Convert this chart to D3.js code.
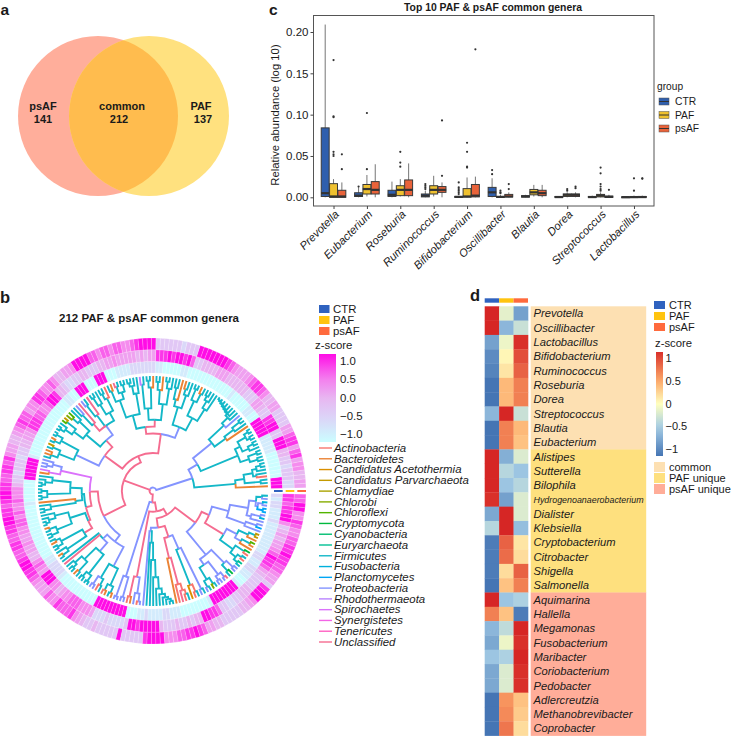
<!DOCTYPE html>
<html>
<head>
<meta charset="utf-8">
<script src="https://cdn.jsdelivr.net/npm/d3@7"></script>
<style>
  body { margin: 0; background: #fff; }
  svg { display: block; }
  text { font-family: "Liberation Sans", Arial, sans-serif; fill: #1a1a1a; }
</style>
</head>
<body>
<svg id="fig" width="733" height="738"></svg>
<script>
// Data
// -------------------------

var groups = ["CTR", "PAF", "psAF"];

// a: venn
var vennNames = ["psAF", "common", "PAF"];
var vennCounts = [141, 212, 137];

// b: phyla, codes are used in the tree string below
var phyla = ["Actinobacteria", "Bacteroidetes", "Candidatus Acetothermia", "Candidatus Parvarchaeota",
  "Chlamydiae", "Chlorobi", "Chloroflexi", "Cryptomycota", "Cyanobacteria", "Euryarchaeota", "Firmicutes",
  "Fusobacteria", "Planctomycetes", "Proteobacteria", "Rhodothermaeota", "Spirochaetes", "Synergistetes",
  "Tenericutes", "Unclassified"];
var phylaCodes = ["A", "B", "C", "D", "E", "G", "H", "I", "J", "K", "F", "L", "M", "P", "R", "S", "T", "N", "U"];
var zTicksB = [1, 0.5, 0, -0.5, -1];

// tree: letter = tip, (...)X70 = clade with branch colour X at radius 70 (tips are at 100)
var cladeS1 = "(B((FF)F94((AF)F91(F(FF)F96)F92)F88)F80)F72";
var cladeS2 = "(((FF)F95(FF)F96)F88((F(FF)F96)F91((FF)F96(FF)F97)F93)F85)F80";
var cladeS3 = "((B(F(FF)F96)F88)F78(P(F(F(F(F(F(F(FF)F98)F97)F96)F95)F94)F93)F91)F84)P66";
var cladeS4 = "(((F(F(FF)F95)F91)F84((FB)F94(FF)F96)F86)F72((F(FB)F93)F88(B(FF)F92)F82)F76)P60";
var cladeS5 = "(((F(FF)F96)F90(B(FF)F95)F88)F76((B(FF)F96)F90(FR)F93)F72)U62";
var cladeS5b = "((F(F(FF)F96)F93)F86(((FF)F96(FU)F96)F90(BF)F94)F84)F68";
var cladeS6a = "(((A(FF)F95)F90(F(FF)F96)F88)F78(U(FP)F94)F82(U(PF)F90)U78)P70";
var cladeS6b = "((F(HG)F94)F88((DH)F96(F(FF)F97)F93)F86)F76";
var cladeS6c = "(((FF)F97(BF)F96)F91((DF)F95(BBF)F94)F88)P74";
var cladeS7 = "((P(PP)P95)P90(SB)S92)S82";
var cladeS8a = "((F(F(FF)F97)F94)F88((FF)F97(FF)F97)F92)F72";
var cladeS8b = "(B(F(FF)F96)F90)F68";
var cladeS8c = "((F(F(FF)F97)F94)F88((BF)F96(FF)F96)F90)F76";
var cladeS8d = "(((FB)F95(FF)F96)F91(F(BF)F96)F90)U70";
var cladeS9 = "((FU)F60(((F(FF)F96)F92(BF)F95)F84((FF)F96(FF)F97)F91)P70)P60";
var cladeS9b = "(((PP)P96(AF)F94)F88((AB)F96(FB)F96)F90)P74";
var cladeB1 = "((PP)P97(PP)P96)P78";
var cladeB2 = "((AB)U94(P(AP)P97)P90)U76";
var cladeB3 = "(P(F(F(F(F(F(F(F(FF)F97)F95)F93)F90)F85)F75)F60)F45)P35";
var cladeB4 = "(B(A(U(AF)A94)A90)U84)U60";
var cladeB4b = "((C(AF)A95)F88(PF)P95)P55";
var cladeR1 = "(((PF)F96(GF)F96)F90((PP)P96(PU)P97)P92)P78";
var cladeR2 = "((FI)F95(PP)P96)P88";
var cladeR3 = "((((FK)F96(AF)F96)F92(AI)F95)F86((B(BH)F96)P88(B(DD)F97)F91)P82)U72";
var cladeR4 = "((P(MP)P95)P85((P(LP)P96)P88(((MM)M97(PL)P96)P92(PF)F95)P90)P84)P68";

var treeString = "(" +
  "(" + cladeS1 + "(" + cladeS2 + cladeS3 + ")P45)P36" +
  "(((" + cladeS4 + "(" + cladeS5 + cladeS5b + ")U56)U50((" + cladeS6a + cladeS6b + ")U60" + cladeS6c + ")U52)U33" +
  "((" + cladeS7 + "((" + cladeS8a + cladeS8b + ")F62(" + cladeS8c + cladeS8d + ")U62)U60)U55(" + cladeS9 + cladeS9b + ")P55)U48)U27" +
  "(" + cladeB1 + "(" + cladeB2 + "((" + cladeB3 + "(" + cladeB4 + cladeB4b + ")U42)U32" +
  "((" + cladeR1 + cladeR2 + ")P72(" + cladeR3 + cladeR4 + ")U53)U46)U24)U18)U10" +
  ")U3";

// rings, one digit per genus going anticlockwise from 3 o'clock, 0 = z -1 ... 9 = z +1
var ringCTR = ["9990000000", "1111199999", "0011000001", "0000000000", "0001100000", "1122222221",
  "1110009990", "0099900110", "0000000000", "0000001999", "9990000001", "0000000000", "0000011222",
  "2100000000", "0009999999", "9900011211", "1122111000", "0000019999", "9999100112", "2112211111",
  "1111211122", "12"].join("");
var ringPAF = ["2233323344", "9993399883", "3455333444", "4445554444", "3379899898", "8855454555",
  "5565544333", "4433223448", "9976677888", "6554433233", "3233466676", "6767766556", "5544676599",
  "9664566777", "6665222322", "2239989999", "9433343343", "4499887332", "2334443333", "4578897655",
  "4543699887", "88"].join("");
var ringPsAF = ["5544665875", "8875533335", "5446788765", "5567899999", "9933323333", "3399998766",
  "7767767799", "9965544676", "6788665778", "7654455687", "8877889987", "8899887788", "7789988765",
  "5576687778", "6543343333", "3933333899", "9966677889", "8755443333", "3445699983", "5567788988",
  "7766786699", "77"].join("");

// c: box plots
var genera = ["Prevotella", "Eubacterium", "Roseburia", "Ruminococcus", "Bifidobacterium", "Oscillibacter",
  "Blautia", "Dorea", "Streptococcus", "Lactobacillus"];
var yTicksC = [0, 0.05, 0.1, 0.15, 0.2];
// [low whisker, q1, median, q3, high whisker]
var ctrBox = [[0, 0.001, 0.005, 0.084, 0.209], [0, 0.001, 0.002, 0.0055, 0.012], [0, 0.001, 0.003, 0.0085, 0.019],
  [0, 0.0005, 0.002, 0.004, 0.008], [0, 0, 0.0005, 0.001, 0.002], [0, 0.001, 0.006, 0.012, 0.023],
  [0, 0.0003, 0.001, 0.002, 0.003], [0, 0, 0.0003, 0.001, 0.0015], [0, 0, 0.0003, 0.001, 0.002], [0, 0, 0.0002, 0.0005, 0.001]];
var pafBox = [[0, 0, 0.001, 0.0165, 0.022], [0.001, 0.004, 0.01, 0.0155, 0.027], [0.001, 0.002, 0.009, 0.014, 0.022],
  [0.001, 0.004, 0.009, 0.014, 0.026], [0, 0.0003, 0.001, 0.0105, 0.024], [0, 0, 0.0005, 0.001, 0.003],
  [0.001, 0.003, 0.006, 0.0095, 0.015], [0, 0.001, 0.003, 0.004, 0.006], [0, 0.0005, 0.002, 0.0035, 0.006], [0, 0, 0.0002, 0.001, 0.002]];
var psafBox = [[0, 0, 0.001, 0.0085, 0.018], [0, 0.004, 0.009, 0.019, 0.04], [0, 0.002, 0.009, 0.021, 0.041],
  [0, 0.006, 0.009, 0.013, 0.018], [0, 0.0005, 0.002, 0.0155, 0.025], [0, 0.0005, 0.001, 0.0035, 0.006],
  [0, 0.002, 0.005, 0.0085, 0.015], [0, 0.001, 0.003, 0.004, 0.006], [0, 0, 0.0005, 0.0015, 0.003], [0, 0, 0.0003, 0.001, 0.002]];
var ctrOut = [[], [0.013], [], [0.016, 0.014, 0.012, 0.01], [0.018, 0.012, 0.01, 0.008, 0.006, 0.004], [0.033, 0.028], [], [], [], []];
var pafOut = [[0.166, 0.098, 0.097, 0.055, 0.052, 0.05], [0.102, 0.034], [0.055, 0.042, 0.037], [], [0.066, 0.055, 0.037, 0.036],
  [0.008, 0.006, 0.005], [], [0.01, 0.008], [0.036, 0.029, 0.016, 0.013, 0.01, 0.008], [0.023, 0.008]];
var psafOut = [[0.052, 0.034], [], [], [0.093, 0.026], [0.179], [0.016, 0.01], [], [0.013, 0.011], [0.009], [0.023, 0.0225]];

// d: heat map
var heatGenera = ["Prevotella", "Oscillibacter", "Lactobacillus", "Bifidobacterium", "Ruminococcus", "Roseburia", "Dorea",
  "Streptococcus", "Blautia", "Eubacterium", "Alistipes", "Sutterella", "Bilophila", "Hydrogenoanaerobacterium", "Dialister",
  "Klebsiella", "Cryptobacterium", "Citrobacter", "Shigella", "Salmonella", "Aquimarina", "Hallella", "Megamonas",
  "Fusobacterium", "Maribacter", "Coriobacterium", "Pedobacter", "Adlercreutzia", "Methanobrevibacter", "Coprobacter"];
var heatCTR = [1.15, 1.15, -0.8, -0.95, -1, -1.1, -1.1, -0.65, -1.1, -1.1, 1.15, 1.15, 1.15, 1.1, -0.75,
  -0.4, -1.05, -1.05, -1.05, -1.1, 1.15, 0.7, -0.65, -0.75, -0.55, -0.75, -0.75, -1.1, -1.1, -1.1];
var heatPAF = [-0.15, -0.65, -0.1, 0.05, 0.15, 0.4, 0.4, 1.15, 0.7, 0.7, -0.7, -0.4, -0.55, -0.8, 1.15,
  1.15, 0.85, 0.8, 0.2, 0.35, -0.55, 0.35, -0.35, -0.1, -0.45, -0.2, -0.2, 0.6, 0.65, 0.75];
var heatPsAF = [-0.8, -0.3, 1.1, 0.95, 0.85, 0.7, 0.7, -0.3, 0.4, 0.35, -0.2, -0.55, -0.4, -0.2, -0.2,
  -0.6, 0.15, 0.2, 0.85, 0.7, -0.45, -1.05, 1.15, 1.1, 1.15, 1.1, 1.1, 0.35, 0.3, 0.2];
var classNames = ["common", "PAF unique", "psAF unique"];
var classCounts = [10, 10, 10];
var zTicksD = [1, 0.5, 0, -0.5, -1];

// Styles
// ------

var groupBoxColor = d3.scaleOrdinal(groups, ["#2F5FAE", "#EFC12F", "#E9633A"]);
var groupKeyColor = d3.scaleOrdinal(groups, ["#2F62BF", "#FFC40F", "#FF6A3D"]);
var phylumColor = d3.scaleOrdinal(phylaCodes, ["#F8766D", "#EB8335", "#DA8F00", "#C49A00", "#AAA300", "#86AC00",
  "#53B400", "#00B93E", "#00BD70", "#00C094", "#14B8C8", "#00B0DC", "#00A6F5", "#8494FF", "#B984FF", "#DB72FB",
  "#F365E6", "#FF61C3", "#F56C90"]);
var ringColor = d3.scaleLinear().domain([0, 2, 4, 6, 9])
  .range(["#CBFDFF", "#DAD8F8", "#E8B6F1", "#F58CEE", "#FF0CE6"]);
var ringBarColor = d3.scaleLinear().domain([-1.1, -0.55, 0, 0.5, 1.1])
  .range(["#CBFDFF", "#DAD8F8", "#E8B6F1", "#F47CEE", "#FF0CE6"]);
var heatColor = d3.scaleLinear().domain([-1.1, -0.5, 0, 0.5, 1.1])
  .range(["#4575B4", "#A4CCE6", "#FFFFBF", "#FDA868", "#D9302A"]).interpolate(d3.interpolateRgb);
var classColor = d3.scaleOrdinal(classNames, ["#FDE0B2", "#FEE07E", "#FFAD99"]);

var svg = d3.select("#fig");

function addText(parent, x, y, str, size, opts) {
  opts = opts || {};
  return parent.append("text").attr("x", x).attr("y", y).text(str)
    .style("font-size", size + "px")
    .style("font-weight", opts.bold ? "bold" : null)
    .style("font-style", opts.italic ? "italic" : null)
    .attr("text-anchor", opts.anchor || "start");
}

addText(svg, 0.5, 14.5, "a", 15.5, {bold: true});
addText(svg, 0, 303, "b", 16.5, {bold: true});
addText(svg, 269, 14.5, "c", 15.5, {bold: true});
addText(svg, 470, 301, "d", 16.5, {bold: true});

drawVenn();
drawTree();
drawBoxes();
drawHeat();

// Venn
// ----

function drawVenn() {
  var x = d3.scaleLinear().domain([0, 1]).range([98, 149]);
  var g = svg.append("g");
  var r = 80, cy = 116;
  g.append("clipPath").attr("id", "vennClip").append("circle").attr("cx", x(0)).attr("cy", cy).attr("r", r);
  g.append("circle").attr("cx", x(0)).attr("cy", cy).attr("r", r).attr("fill", "#FFAE9B");
  g.append("circle").attr("cx", x(1)).attr("cy", cy).attr("r", r).attr("fill", "#FFE17F");
  g.append("circle").attr("cx", x(1)).attr("cy", cy).attr("r", r).attr("fill", "#FFBC4E").attr("clip-path", "url(#vennClip)");
  var nameX = [43, 122, 201], countX = [43, 119, 203];
  vennNames.forEach(function(n, i) {
    addText(g, nameX[i], 110, n, 11, {bold: true, anchor: "middle"});
    addText(g, countX[i], 123, vennCounts[i], 11, {bold: true, anchor: "middle"});
  });
}

// Circular tree with three rings
// ------------------------------

function parseTree(s) {
  var i = 0;
  function node() {
    if (s[i] === "(") {
      i++;
      var children = [];
      while (s[i] !== ")") children.push(node());
      i++;
      var code = s[i++], n = "";
      while (/\d/.test(s[i])) n += s[i++];
      return {code: code, r: +n, children: children};
    }
    return {code: s[i++], r: 100};
  }
  return node();
}

function drawTree() {
  var cx = 153, cy = 491;
  var g = svg.append("g").attr("transform", "translate(" + cx + "," + cy + ")");

  var root = d3.hierarchy(parseTree(treeString));
  d3.cluster().size([1, 1]).separation(function() { return 1; })(root);

  var angle = d3.scaleLinear().domain([0, 1]).range([1.5, 358.5].map(function(d) { return d * Math.PI / 180; }));
  var radius = d3.scaleLinear().domain([0, 100]).range([0, 115]);

  // branch: arc along the parent's radius, then straight out to the child
  root.links().forEach(function(l) {
    var a0 = angle(l.source.x), a1 = angle(l.target.x);
    var r0 = radius(l.source.data.r), r1 = radius(l.target.data.r);
    var p = d3.path();
    p.moveTo(r0 * Math.cos(a0), -r0 * Math.sin(a0));
    p.arc(0, 0, r0, -a0, -a1, a1 > a0);
    p.lineTo(r1 * Math.cos(a1), -r1 * Math.sin(a1));
    g.append("path").attr("d", p.toString()).attr("fill", "none")
      .attr("stroke", phylumColor(l.target.data.code)).attr("stroke-width", 1.9);
  });

  // rings, innermost is CTR
  var ringBand = d3.scaleBand().domain(groups).range([118, 153]);
  var cellBand = d3.scaleBand().domain(d3.range(212)).range([1.2, 358.8]);
  var arc = d3.arc();
  [ringCTR, ringPAF, ringPsAF].forEach(function(ring, k) {
    var name = groups[k];
    ring.split("").forEach(function(d, i) {
      var a0 = (90 - cellBand(i)) * Math.PI / 180;
      var a1 = (90 - cellBand(i) - cellBand.bandwidth()) * Math.PI / 180;
      g.append("path").attr("d", arc({
          innerRadius: ringBand(name), outerRadius: ringBand(name) + ringBand.bandwidth(),
          startAngle: a0, endAngle: a1
        }))
        .attr("fill", ringColor(+d)).attr("stroke", "#fff").attr("stroke-width", 0.3).attr("stroke-opacity", 0.6);
    });
    // group marks in the gap of the rings
    g.append("rect").attr("x", ringBand(name) + 3).attr("width", ringBand.bandwidth() - 3)
      .attr("y", -1).attr("height", 2).attr("fill", groupKeyColor(name));
  });

  addText(svg, 149, 322, "212 PAF & psAF common genera", 11.5, {bold: true, anchor: "middle"});

  // legend
  var lg = svg.append("g");
  var keyY = d3.scalePoint().domain(groups).range([309, 331]);
  groups.forEach(function(n) {
    lg.append("rect").attr("x", 319).attr("y", keyY(n) - 4).attr("width", 10.5).attr("height", 8).attr("fill", groupKeyColor(n));
    addText(lg, 333, keyY(n) + 4, n, 11.4);
  });
  addText(lg, 315, 349, "z-score", 11.4);

  var grad = svg.append("defs").append("linearGradient").attr("id", "ringGrad")
    .attr("x1", 0).attr("x2", 0).attr("y1", 1).attr("y2", 0);
  d3.range(0, 1.01, 0.1).forEach(function(t) {
    grad.append("stop").attr("offset", t).attr("stop-color", ringBarColor(-1.1 + 2.2 * t));
  });
  var barY = d3.scaleLinear().domain([-1, 1]).range([434, 361]);
  lg.append("rect").attr("x", 319).attr("y", 354).attr("width", 17).attr("height", 88).attr("fill", "url(#ringGrad)");
  zTicksB.forEach(function(t) {
    addText(lg, 340, barY(t) + 4, d3.format(".1f")(t).replace("-", "\u2212"), 11.4);
  });

  var rowY = d3.scalePoint().domain(phyla).range([448, 642]);
  phyla.forEach(function(n, i) {
    lg.append("line").attr("x1", 319).attr("x2", 332).attr("y1", rowY(n)).attr("y2", rowY(n))
      .attr("stroke", phylumColor(phylaCodes[i])).attr("stroke-width", 1.4);
    addText(lg, 334, rowY(n) + 3.8, n, 11.4, {italic: true});
  });
}

// Box plots
// ---------

function drawBoxes() {
  var left = 313.5, right = 654, top = 15.5, bottom = 206;
  var x = d3.scalePoint().domain(genera).range([left, right]).padding(0.6);
  var y = d3.scaleLinear().domain([0, 0.2]).range([197.3, 32]);
  var dodge = d3.scaleBand().domain(groups).range([-12.5, 12.5]);
  var g = svg.append("g");

  addText(svg, 493, 11, "Top 10 PAF & psAF common genera", 10.4, {bold: true, anchor: "middle"});

  var boxes = [ctrBox, pafBox, psafBox], outs = [ctrOut, pafOut, psafOut];
  groups.forEach(function(name, k) {
    genera.forEach(function(gen, i) {
      var b = boxes[k][i];
      var x0 = x(gen) + dodge(name), w = dodge.bandwidth(), xm = x0 + w / 2;
      g.append("line").attr("x1", xm).attr("x2", xm).attr("y1", y(b[0])).attr("y2", y(b[4]))
        .attr("stroke", "#666").attr("stroke-width", 0.9);
      g.append("rect").attr("x", x0 + 0.2).attr("width", w - 0.4).attr("y", y(b[3])).attr("height", Math.max(y(b[1]) - y(b[3]), 0.8))
        .attr("fill", groupBoxColor(name)).attr("stroke", "#3a3a3a").attr("stroke-width", 1);
      g.append("line").attr("x1", x0).attr("x2", x0 + w).attr("y1", y(b[2])).attr("y2", y(b[2]))
        .attr("stroke", "#333").attr("stroke-width", 2.2);
      outs[k][i].forEach(function(v) {
        g.append("circle").attr("cx", xm).attr("cy", y(v)).attr("r", 1.1).attr("fill", "#333");
      });
    });
  });

  g.append("rect").attr("x", left).attr("y", top).attr("width", right - left).attr("height", bottom - top)
    .attr("fill", "none").attr("stroke", "#555").attr("stroke-width", 1);

  var ay = g.append("g").attr("transform", "translate(" + left + ",0)")
    .call(d3.axisLeft(y).tickValues(yTicksC).tickFormat(d3.format(".2f")).tickSize(3).tickPadding(2));
  ay.select(".domain").remove();
  ay.selectAll("text").style("font-size", "11.5px");
  ay.selectAll("line").attr("stroke", "#444");

  var ax = g.append("g").attr("transform", "translate(0," + bottom + ")")
    .call(d3.axisBottom(x).tickSize(3).tickPadding(2));
  ax.select(".domain").remove();
  ax.selectAll("line").attr("stroke", "#444");
  ax.selectAll("text").style("font-size", "11.3px").style("font-style", "italic")
    .attr("text-anchor", "end").attr("dx", -2.3).attr("dy", 5.4)
    .attr("transform", "rotate(-45)");

  addText(svg, 0, 0, "Relative abundance (log 10)", 11.3, {anchor: "middle"})
    .attr("transform", "translate(279,115) rotate(-90)");

  addText(svg, 657, 90, "group", 10.2);
  var keyY = d3.scalePoint().domain(groups).range([101.5, 128.5]);
  groups.forEach(function(n) {
    g.append("rect").attr("x", 659).attr("y", keyY(n) - 3.5).attr("width", 10).attr("height", 7)
      .attr("fill", groupBoxColor(n)).attr("stroke", "#555").attr("stroke-width", 0.5);
    g.append("line").attr("x1", 659).attr("x2", 669).attr("y1", keyY(n)).attr("y2", keyY(n)).attr("stroke", "#333").attr("stroke-width", 1);
    addText(g, 675, keyY(n) + 3.5, n, 10.3);
  });
}

// Heat map
// --------

function drawHeat() {
  var x = d3.scaleBand().domain(groups).range([484.7, 528]);
  var y = d3.scaleBand().domain(heatGenera).range([306.3, 735.6]);
  var g = svg.append("g");
  var cols = [heatCTR, heatPAF, heatPsAF];

  groups.forEach(function(name, k) {
    g.append("rect").attr("x", x(name)).attr("y", 298.3).attr("width", x.bandwidth()).attr("height", 4.4).attr("fill", groupKeyColor(name));
    heatGenera.forEach(function(gen, i) {
      g.append("rect").attr("x", x(name)).attr("y", y(gen)).attr("width", x.bandwidth() + 0.3).attr("height", y.bandwidth() + 0.3)
        .attr("fill", heatColor(cols[k][i]));
    });
  });

  var row = 0;
  classNames.forEach(function(c, k) {
    g.append("rect").attr("x", 530.7).attr("width", 115.5).attr("y", y(heatGenera[row]))
      .attr("height", y.bandwidth() * classCounts[k] + 0.3).attr("fill", classColor(c));
    row += classCounts[k];
  });
  heatGenera.forEach(function(gen) {
    var long = gen.length > 20;
    addText(g, 533.5, y(gen) + y.bandwidth() / 2 + (long ? 3.2 : 4), gen, long ? 8.9 : 11.2, {italic: true});
  });

  var keyY = d3.scalePoint().domain(groups).range([305, 327]);
  groups.forEach(function(n) {
    g.append("rect").attr("x", 654).attr("y", keyY(n) - 4).attr("width", 11).attr("height", 8).attr("fill", groupKeyColor(n));
    addText(g, 669, keyY(n) + 4, n, 11);
  });
  addText(g, 655, 347, "z-score", 11.3);

  var grad = svg.append("defs").append("linearGradient").attr("id", "heatGrad")
    .attr("x1", 0).attr("x2", 0).attr("y1", 1).attr("y2", 0);
  d3.range(0, 1.01, 0.1).forEach(function(t) {
    grad.append("stop").attr("offset", t).attr("stop-color", heatColor(-1.1 + 2.2 * t));
  });
  var barY = d3.scaleLinear().domain([-1, 1]).range([449, 358]);
  g.append("rect").attr("x", 656).attr("y", 352).attr("width", 7).attr("height", 104).attr("fill", "url(#heatGrad)");
  zTicksD.forEach(function(t) {
    addText(g, 665.5, barY(t) + 4, String(t).replace("-", "\u2212"), 11);
  });

  var classY = d3.scalePoint().domain(classNames).range([467, 489]);
  classNames.forEach(function(c) {
    g.append("rect").attr("x", 654).attr("y", classY(c) - 5).attr("width", 11).attr("height", 10).attr("fill", classColor(c));
    addText(g, 669, classY(c) + 3.8, c, 11);
  });
}
</script>
</body>
</html>
